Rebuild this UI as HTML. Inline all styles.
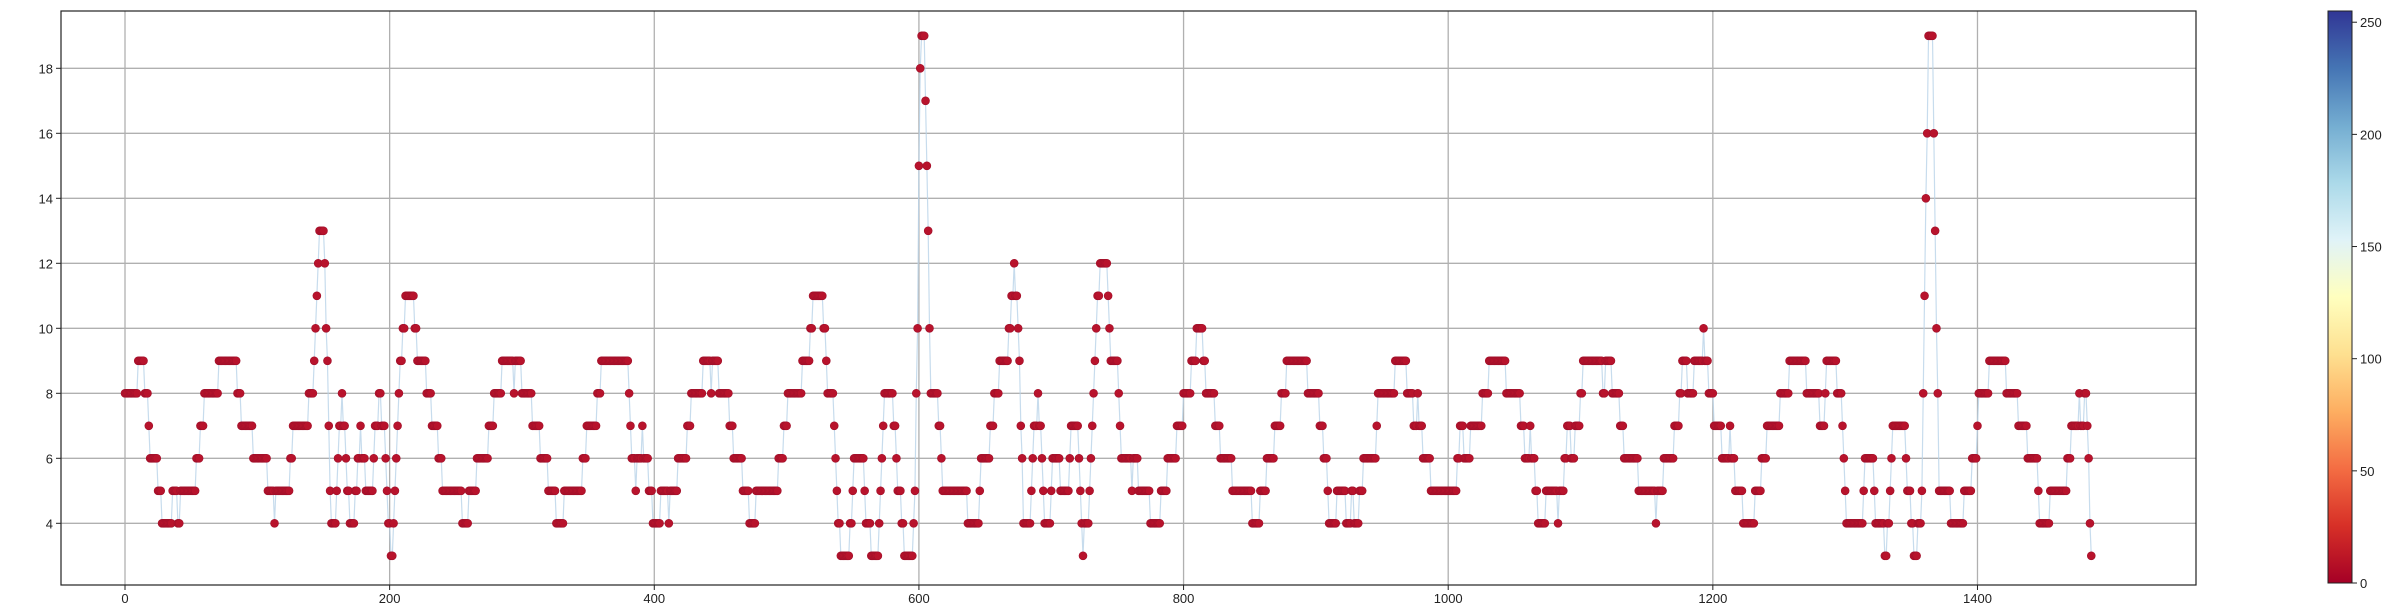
<!DOCTYPE html>
<html><head><meta charset="utf-8"><style>
html,body{margin:0;padding:0;background:#fff;}
svg{display:block;font-family:"Liberation Sans",sans-serif;}
</style></head><body>
<svg id="chart" width="2389" height="605" viewBox="0 0 2389 605" xmlns="http://www.w3.org/2000/svg">
<defs>
<linearGradient id="rdylbu" x1="0" y1="1" x2="0" y2="0">
<stop offset="0" stop-color="#a50026"/><stop offset="0.1" stop-color="#d73027"/><stop offset="0.2" stop-color="#f46d43"/><stop offset="0.3" stop-color="#fdae61"/><stop offset="0.4" stop-color="#fee090"/><stop offset="0.5" stop-color="#ffffbf"/><stop offset="0.6" stop-color="#e0f3f8"/><stop offset="0.7" stop-color="#abd9e9"/><stop offset="0.8" stop-color="#74add1"/><stop offset="0.9" stop-color="#4575b4"/><stop offset="1" stop-color="#313695"/>
</linearGradient>
</defs>
<g id="grid"></g>
<g id="series"></g>
<rect x="61" y="11" width="2135" height="574" fill="none" stroke="#222" stroke-width="1.2"/>
<g id="xticks"></g>
<g id="yticks"></g>
<rect x="2328" y="11" width="24" height="572" fill="url(#rdylbu)" stroke="#222" stroke-width="1"/>
<g id="cbticks"></g>
</svg>
<script>
const runValues = [
8,9,8,7,6,5,4,5,4,5,6,7,8,9,8,7,6,5,4,5,6,7,8,9,10,11,12,13,12,
10,9,7,5,4,5,6,7,8,7,6,5,4,5,6,7,6,5,6,7,8,7,6,5,4,3,4,5,6,7,8,9,10,11,10,9,8,7,6,5,4,5,6,7,8,
9,8,9,8,7,6,5,4,5,6,7,8,9,8,7,6,5,6,7,6,5,4,5,4,5,6,7,8,9,8,9,8,
8,7,6,5,4,5,6,7,8,9,10,11,10,9,8,7,6,5,4,3,4,5,6,5,4,3,4,5,6,7,8,7,6,5,4,3,4,5,8,10,15,
18,19,17,15,13,10,8,7,6,5,4,5,6,7,8,9,10,11,12,11,10,9,7,6,4,5,6,7,8,7,6,5,4,5,6,5,6,7,6,5,4,3,4,5,6,7,8,9,10,11,12,11,10,9,8,
7,6,5,6,5,4,5,6,7,8,9,10,9,8,7,6,5,4,5,6,7,8,9,8,
7,6,5,4,5,4,5,4,5,6,7,8,9,8,7,8,7,6,5,6,7,6,7,8,9,8,
8,7,6,7,6,5,4,5,4,5,6,7,6,7,8,9,8,9,8,7,6,5,4,5,6,7,8,9,8,9,10,9,8,7,
7,6,7,6,5,4,5,6,7,8,9,8,7,8,9,8,7,6,5,4,5,6,5,4,3,4,5,6,7,6,5,4,3,
4,5,8,11,14,16,19,16,13,10,8,5,4,5,6,7,8,9,8,7,6,5,4,5,6,7,8,7,8,7,6,4,3
];
const runLengths = [
10,5,3,1,6,3,8,4,2,12,3,3,11,14,3,9,11,5,1,11,2,12,4,1,1,1,1,4,1,
1,1,1,1,4,1,1,2,1,2,1,2,4,2,2,1,3,6,1,3,2,3,1,1,2,2,1,1,1,1,1,2,2,7,2,7,4,5,3,15,5,6,9,4,6,
9,1,5,8,6,6,6,6,14,3,8,3,21,1,1,3,1,4,1,4,3,6,6,1,6,7,3,9,6,1,5,1,
7,3,7,5,5,17,4,3,11,6,2,8,2,1,5,1,1,1,2,7,2,1,8,1,4,6,1,1,1,1,7,2,1,3,2,7,1,1,1,1,1,
1,3,1,1,1,1,6,2,1,19,9,1,7,3,4,7,2,2,1,2,1,1,1,1,6,1,1,3,1,2,1,1,5,1,6,7,1,6,1,1,1,1,4,1,1,1,1,1,1,2,6,1,1,6,1,
1,8,1,4,9,8,5,7,5,6,4,5,2,7,4,9,15,6,5,6,5,4,16,9,
3,3,1,6,7,4,2,4,3,10,1,13,9,5,3,1,3,6,20,2,3,5,9,5,13,9,
2,3,4,1,3,2,6,9,1,4,2,3,3,4,2,15,2,5,6,3,11,13,1,5,8,4,2,4,5,7,1,3,4,3,
3,6,1,3,6,9,5,4,10,7,13,10,4,1,8,4,1,1,1,13,1,7,1,7,2,2,1,1,10,1,3,2,3,
3,1,1,1,1,1,4,1,1,1,1,9,10,6,4,1,8,13,9,7,8,1,8,13,3,6,1,3,2,1,1,1,1
];
const xTicks = [0,200,400,600,800,1000,1200,1400];
const yTicks = [4,6,8,10,12,14,16,18];
const cbTicks = [0,50,100,150,200,250];

const NS = "http://www.w3.org/2000/svg";
const X0 = 125, SX = 1.3232;
const xScale = v => X0 + v * SX;
const yScale = v => 133.3 + (16 - v) * 32.5;
const cbScale = v => 583 - v * (572 / 255);
function mk(tag, attrs, parent) {
  const e = document.createElementNS(NS, tag);
  for (const k in attrs) e.setAttribute(k, attrs[k]);
  parent.appendChild(e);
  return e;
}
const values = [];
runValues.forEach((v, i) => { for (let k = 0; k < runLengths[i]; k++) values.push(v); });

const grid = document.getElementById('grid');
xTicks.forEach(t => {
  const l = mk('line', {x1: xScale(t), x2: xScale(t), y1: 11, y2: 585, stroke: '#b0b0b0', 'stroke-width': 1.3}, grid);
  
  
});
yTicks.forEach(t => {
  const l = mk('line', {x1: 61, x2: 2196, y1: yScale(t), y2: yScale(t), stroke: '#b0b0b0', 'stroke-width': 1.3}, grid);
  
  
});

const series = document.getElementById('series');
const pts = values.map((v, i) => xScale(i).toFixed(2) + ',' + yScale(v).toFixed(2)).join(' ');
const line = mk('polyline', {points: pts, fill: 'none', stroke: '#b9d3e8', 'stroke-width': 1.2, 'stroke-opacity': 0.8}, series);


values.forEach((v, i) => {
  const c = mk('circle', {cx: xScale(i), cy: yScale(v), r: 4, fill: '#b8132c', stroke: '#a0102a', 'stroke-width': 0.6}, series);
  
  
});

const xt = document.getElementById('xticks');
xTicks.forEach(t => {
  const tk = mk('line', {x1: xScale(t), x2: xScale(t), y1: 585, y2: 590, stroke: '#222', 'stroke-width': 1}, xt);
  
  
  const tx = mk('text', {x: xScale(t), y: 603, 'text-anchor': 'middle', 'font-size': 13, fill: '#222'}, xt);
  tx.textContent = t;
  
  
});
const yt = document.getElementById('yticks');
yTicks.forEach(t => {
  const tk = mk('line', {x1: 56, x2: 61, y1: yScale(t), y2: yScale(t), stroke: '#222', 'stroke-width': 1}, yt);
  
  
  const tx = mk('text', {x: 53, y: yScale(t) + 5, 'text-anchor': 'end', 'font-size': 13, fill: '#222'}, yt);
  tx.textContent = t;
  
  
});
const cb = document.getElementById('cbticks');
cbTicks.forEach(t => {
  const tk = mk('line', {x1: 2352, x2: 2357, y1: cbScale(t), y2: cbScale(t), stroke: '#222', 'stroke-width': 1}, cb);
  
  
  const tx = mk('text', {x: 2360, y: cbScale(t) + 5, 'text-anchor': 'start', 'font-size': 13, fill: '#222'}, cb);
  tx.textContent = t;
  
  
});
</script>
</body></html>
